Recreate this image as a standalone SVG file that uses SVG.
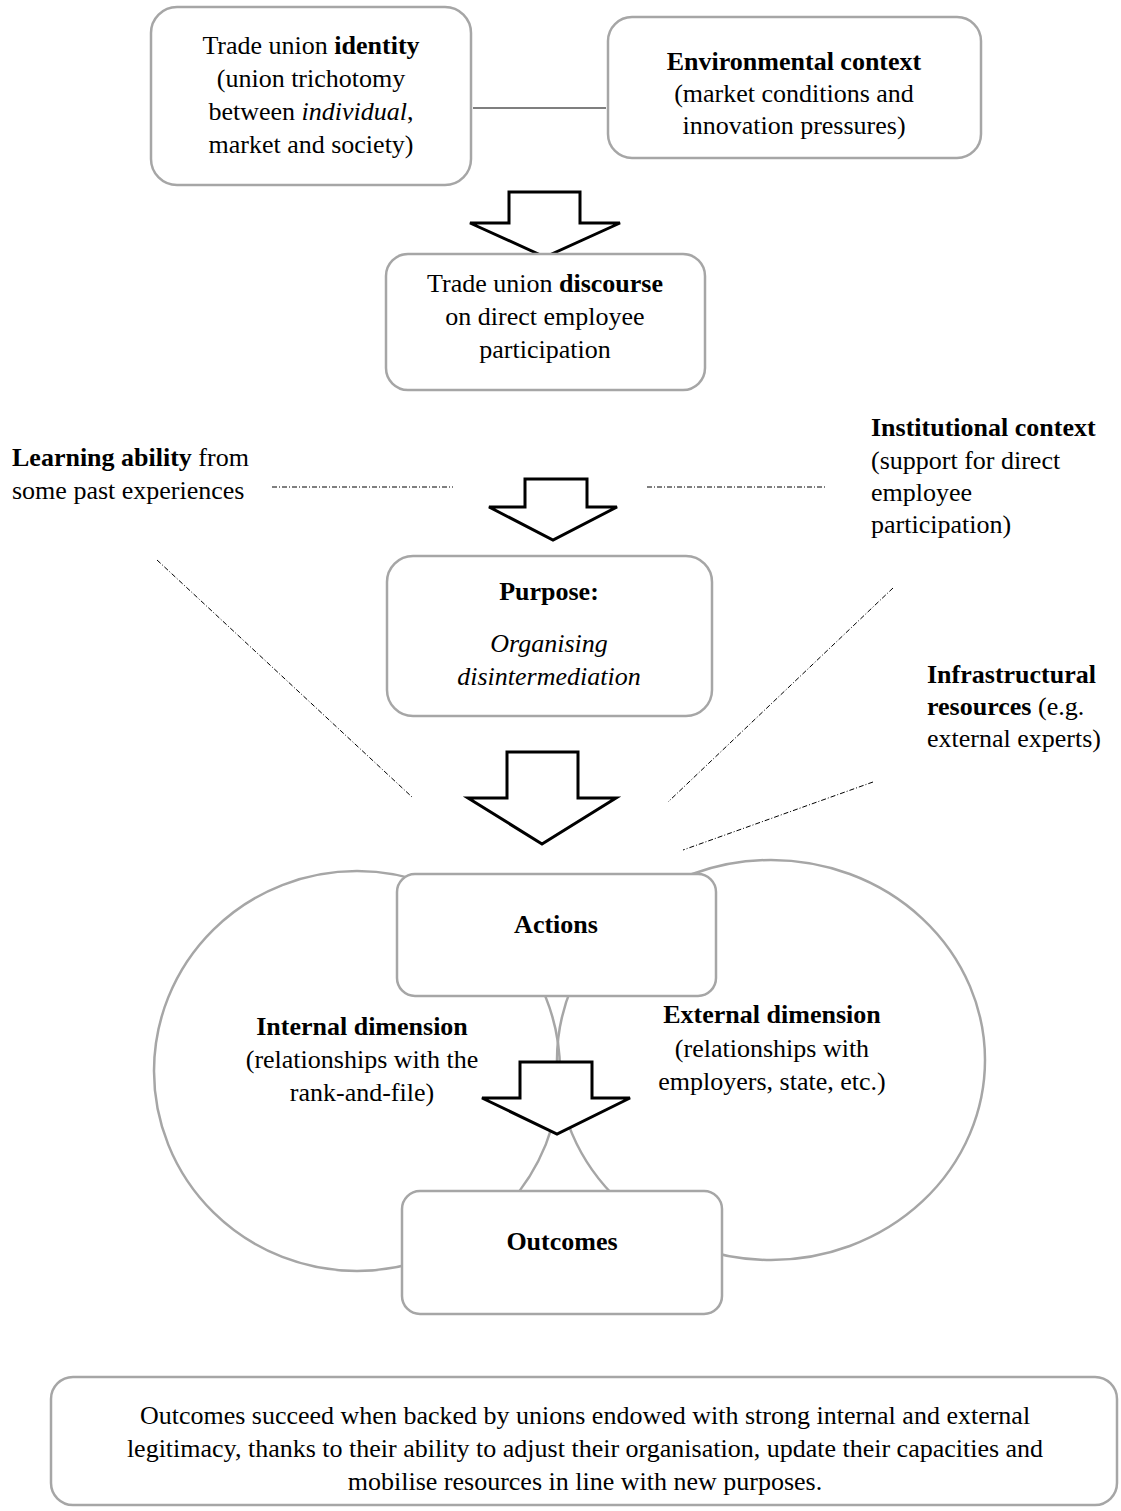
<svg xmlns="http://www.w3.org/2000/svg" width="1121" height="1511" viewBox="0 0 1121 1511">
<style>
text{font-family:"Liberation Serif","Times New Roman",serif;font-size:26px;fill:#000}
.c{text-anchor:middle}
.b{font-weight:bold}
.i{font-style:italic}
.box{fill:#fff;stroke:#a6a6a6;stroke-width:2.5}
.ell{fill:none;stroke:#a6a6a6;stroke-width:2.5}
.arr{fill:#fff;stroke:#000;stroke-width:3;stroke-linejoin:miter}
.dash{fill:none;stroke:#000;stroke-width:1;stroke-dasharray:5 2 1 2}
.solid{fill:none;stroke:#000;stroke-width:1.2}
</style>
<g id="dimensions">
<ellipse class="ell" cx="357" cy="1071" rx="203" ry="200"/>
<ellipse class="ell" cx="771" cy="1060" rx="214" ry="200"/>
</g>
<g id="connectors">
<line class="solid" x1="473" y1="108" x2="606" y2="108"/>
<line class="dash" x1="272" y1="487" x2="453" y2="487"/>
<line class="dash" x1="647" y1="487" x2="826" y2="487"/>
<line class="dash" x1="157" y1="560" x2="412" y2="797"/>
<line class="dash" x1="893" y1="588" x2="668" y2="802"/>
<line class="dash" x1="873" y1="782" x2="683" y2="850"/>
<polygon class="arr" points="509,192 580,192 580,223 620,223 545,257 470,223 509,223"/>
<polygon class="arr" points="525,479 587,479 587,507 617,507 553,540 489,507 525,507"/>
<polygon class="arr" points="507,752 578,752 578,798 616,798 542,844 468,798 507,798"/>
</g>
<g id="identity">
<rect class="box" x="151" y="7" width="320" height="178" rx="26"/>
<text class="c" x="311" y="54">Trade union <tspan class="b">identity</tspan></text>
<text class="c" x="311" y="87">(union trichotomy</text>
<text class="c" x="311" y="120">between <tspan class="i">individual</tspan>,</text>
<text class="c" x="311" y="153">market and society)</text>
</g>
<g id="environmental">
<rect class="box" x="608" y="17" width="373" height="141" rx="24"/>
<text class="c b" x="794" y="70">Environmental context</text>
<text class="c" x="794" y="102">(market conditions and</text>
<text class="c" x="794" y="134">innovation pressures)</text>
</g>
<g id="discourse">
<rect class="box" x="386" y="254" width="319" height="136" rx="22"/>
<text class="c" x="545" y="292">Trade union <tspan class="b">discourse</tspan></text>
<text class="c" x="545" y="325">on direct employee</text>
<text class="c" x="545" y="358">participation</text>
</g>
<g id="learning">
<text x="12" y="466"><tspan class="b">Learning ability</tspan> from</text>
<text x="12" y="499">some past experiences</text>
</g>
<g id="institutional">
<text x="871" y="436" class="b">Institutional context</text>
<text x="871" y="469">(support for direct</text>
<text x="871" y="501">employee</text>
<text x="871" y="533">participation)</text>
</g>
<g id="purpose">
<rect class="box" x="387" y="556" width="325" height="160" rx="26"/>
<text class="c b" x="549" y="600">Purpose:</text>
<text class="c i" x="549" y="652">Organising</text>
<text class="c i" x="549" y="685">disintermediation</text>
</g>
<g id="infrastructural">
<text x="927" y="683" class="b">Infrastructural</text>
<text x="927" y="715"><tspan class="b">resources</tspan> (e.g.</text>
<text x="927" y="747">external experts)</text>
</g>
<g id="actions">
<rect class="box" x="397" y="874" width="319" height="122" rx="18"/>
<text class="c b" x="556" y="933">Actions</text>
</g>
<g id="internal">
<text class="c b" x="362" y="1035">Internal dimension</text>
<text class="c" x="362" y="1068">(relationships with the</text>
<text class="c" x="362" y="1101">rank-and-file)</text>
</g>
<g id="external">
<text class="c b" x="772" y="1023">External dimension</text>
<text class="c" x="772" y="1057">(relationships with</text>
<text class="c" x="772" y="1090">employers, state, etc.)</text>
</g>
<g id="connectors-2">
<polygon class="arr" points="520,1062 592,1062 592,1098 630,1098 557,1134 482,1098 520,1098"/>
</g>
<g id="outcomes">
<rect class="box" x="402" y="1191" width="320" height="123" rx="18"/>
<text class="c b" x="562" y="1250">Outcomes</text>
</g>
<g id="conclusion">
<rect class="box" x="51" y="1377" width="1066" height="128" rx="22"/>
<text class="c" x="585" y="1424">Outcomes succeed when backed by unions endowed with strong internal and external</text>
<text class="c" x="585" y="1457">legitimacy, thanks to their ability to adjust their organisation, update their capacities and</text>
<text class="c" x="585" y="1490">mobilise resources in line with new purposes.</text>
</g>
</svg>
